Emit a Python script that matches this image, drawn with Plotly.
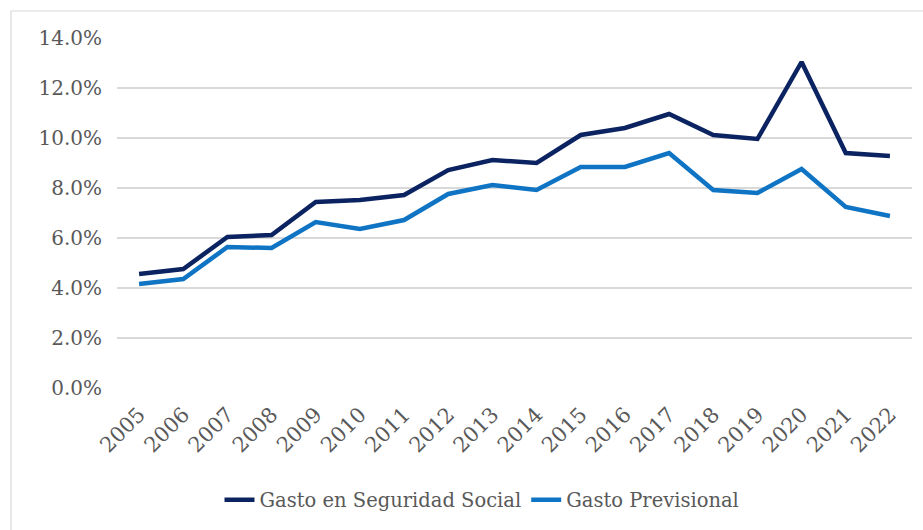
import plotly.graph_objects as go

years = ["2005", "2006", "2007", "2008", "2009", "2010", "2011", "2012", "2013",
         "2014", "2015", "2016", "2017", "2018", "2019", "2020", "2021", "2022"]

gasto_seguridad_social = [4.56, 4.76, 6.04, 6.12, 7.44, 7.52, 7.72, 8.72, 9.12,
                          9.00, 10.12, 10.40, 10.96, 10.12, 9.96, 13.04, 9.40, 9.28]

gasto_previsional = [4.16, 4.36, 5.64, 5.60, 6.64, 6.36, 6.72, 7.76, 8.12,
                     7.92, 8.84, 8.84, 9.40, 7.92, 7.80, 8.76, 7.24, 6.88]

y_ticks = [0, 2, 4, 6, 8, 10, 12, 14]
y_tick_labels = [f"{v:.1f}%" for v in y_ticks]

FONT = "DejaVu Serif"
TEXT_GREY = "#595959"
GRID = "#d9d9d9"

fig = go.Figure()
fig.add_trace(go.Scatter(
    x=years, y=gasto_seguridad_social, mode="lines",
    name="Gasto en Seguridad Social",
    line=dict(color="#0b2461", width=4.5),
))
fig.add_trace(go.Scatter(
    x=years, y=gasto_previsional, mode="lines",
    name="Gasto Previsional",
    line=dict(color="#0f74c4", width=4.5),
))

W, H = 923, 530
ML, MR, MT, MB = 117, 11, 38, 142
pw, ph = W - ML - MR, H - MT - MB


def px_to_paper(px, py):
    return (px - ML) / pw, (H - MB - py) / ph


# light frame around the chart area
x0, y0 = px_to_paper(11, 11)
x1, y1 = px_to_paper(930, 540)
fig.add_shape(type="rect", xref="paper", yref="paper",
              x0=x0, y0=y1, x1=x1, y1=y0,
              line=dict(color="#d9d9d9", width=1.2), fillcolor="rgba(0,0,0,0)",
              layer="below")

fig.update_layout(
    width=W, height=H,
    margin=dict(l=ML, r=MR, t=MT, b=MB),
    paper_bgcolor="white", plot_bgcolor="white",
    font=dict(family=FONT, color=TEXT_GREY, size=19),
    showlegend=True,
    legend=dict(orientation="h", x=px_to_paper(482, 0)[0], xanchor="center",
                y=px_to_paper(0, 500)[1], yanchor="middle",
                font=dict(family=FONT, size=19.5, color=TEXT_GREY),
                itemwidth=30, tracegroupgap=0),
    xaxis=dict(type="category", range=[-0.5, len(years) - 0.5],
               tickangle=-45, showgrid=False, showline=False, ticks="",
               tickfont=dict(family=FONT, size=21, color=TEXT_GREY),
               zeroline=False, ticklabelstandoff=9),
    yaxis=dict(range=[0, 14], tickvals=y_ticks, ticktext=y_tick_labels,
               showgrid=True, gridcolor=GRID, gridwidth=1.5,
               showline=False, ticks="", zeroline=False,
               tickfont=dict(family=FONT, size=20, color=TEXT_GREY),
               ticklabelstandoff=14),
)

fig.write_html("out.html")
